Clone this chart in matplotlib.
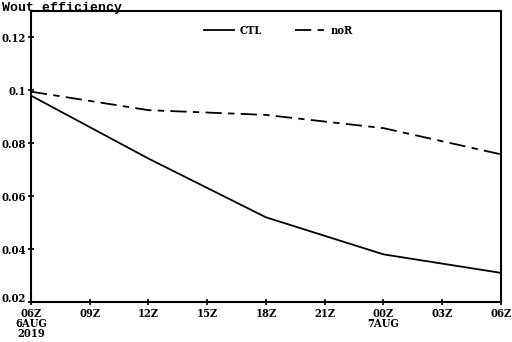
import matplotlib.pyplot as plt

# Данные
hours = [0, 6, 12, 18, 24]
ctl = [0.098, 0.0742, 0.052, 0.038, 0.031]
nor = [0.0995, 0.0925, 0.0907, 0.0857, 0.0758]

xtick_pos = [0, 3, 6, 9, 12, 15, 18, 21, 24]
xtick_labels = ['06Z\n6AUG\n2019', '09Z', '12Z', '15Z', '18Z', '21Z',
                '00Z\n7AUG', '03Z', '06Z']
ytick_pos = [0.02, 0.04, 0.06, 0.08, 0.1, 0.12]
ytick_labels = ['0.02', '0.04', '0.06', '0.08', '0.1', '0.12']

plt.rcParams['font.family'] = 'DejaVu Serif'
plt.rcParams['font.weight'] = 'bold'
plt.rcParams['font.stretch'] = 'condensed'

fig = plt.figure(figsize=(5.12, 3.42), dpi=100)
ax = fig.add_axes([0.0605, 0.117, 0.918, 0.851])

ax.plot(hours, ctl, color='black', lw=1.3, label='CTL')
ax.plot(hours, nor, color='black', lw=1.3, dashes=(9, 3.5, 3.5, 3.5), label='noR')

ax.set_xlim(0, 24)
ax.set_ylim(0.02, 0.13)
ax.set_xticks(xtick_pos)
ax.set_xticklabels(xtick_labels, fontsize=8, fontweight='bold', linespacing=0.9)
ax.set_yticks(ytick_pos)
ax.set_yticklabels(ytick_labels, fontsize=8, fontweight='bold')
ax.tick_params(direction='inout', length=5, width=1.2)
ax.tick_params(axis='x', pad=1.5)
ax.tick_params(axis='y', pad=1)
for s in ax.spines.values():
    s.set_linewidth(1.5)

# подпись 0.02 чуть выше, чтобы не налезала на 06Z
ax.get_yticklabels()[0].set_verticalalignment('baseline')

# Заголовок
fig.text(0.004, 0.995, 'Wout efficiency', fontsize=9.5, fontweight='bold',
         va='top', ha='left', family='Liberation Mono', stretch='normal')

# Легенда
ax.legend(loc='upper center', bbox_to_anchor=(0.527, 0.985), ncol=2,
          frameon=False, fontsize=8, handlelength=2.7, columnspacing=3.0,
          handletextpad=0.5)

plt.savefig('out.png', dpi=100)
